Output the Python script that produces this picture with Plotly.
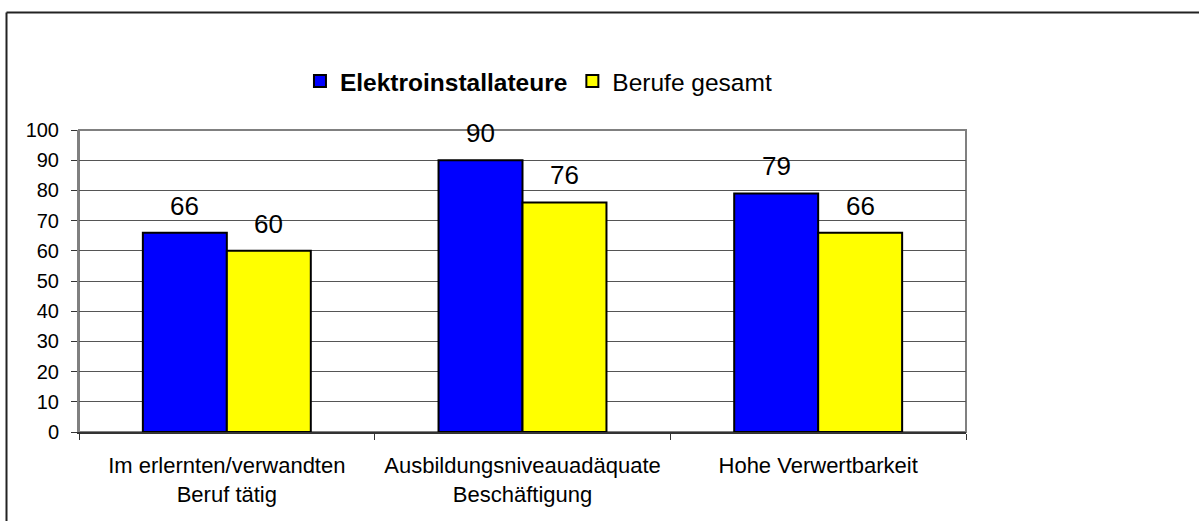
import plotly.graph_objects as go

categories = ["Im erlernten/verwandten<br>Beruf tätig",
              "Ausbildungsniveauadäquate<br>Beschäftigung",
              "Hohe Verwertbarkeit"]
series_names = ["Elektroinstallateure", "Berufe gesamt"]
elektro = [66, 90, 79]
gesamt = [60, 76, 66]
y_ticks = list(range(0, 101, 10))

W, H = 1199, 521
ML, MR, MT, MB = 79, 233, 130, 89
PW = W - ML - MR
PH = H - MT - MB
BARGAP = 0.432
FONT = "Liberation Sans, Arial, sans-serif"

fig = go.Figure()
colors = ["#0000FF", "#FFFF00"]
series = [elektro, gesamt]
for i, (name, vals) in enumerate(zip(series_names, series)):
    fig.add_trace(go.Bar(
        x=categories, y=vals,
        name=("<b>%s</b>" % name) if i == 0 else name,
        marker=dict(color=colors[i], line=dict(color="#000000", width=2)),
    ))

# data labels above each bar
bar_w = PW / len(categories) * (1 - BARGAP) / 2
annotations = []
for i, vals in enumerate(series):
    shift = (i - 0.5) * bar_w
    for c, v in zip(categories, vals):
        annotations.append(dict(
            x=c, y=v, xref="x", yref="y", text=str(v), showarrow=False,
            xshift=shift, yshift=10, yanchor="bottom",
            font=dict(family=FONT, size=26, color="#000000")))

# pixel -> paper helpers for the outer chart frame
def px(x):
    return (x - ML) / PW

def py(y):
    return (MT + PH - y) / PH

shapes = [
    # plot area border (top/right gray)
    dict(type="rect", xref="paper", yref="paper", x0=0, x1=1, y0=0, y1=1,
         line=dict(color="#808080", width=2), layer="below"),
    # outer chart frame: top and left edges (others fall outside the view)
    dict(type="line", xref="paper", yref="paper", x0=px(6.5), x1=px(W), y0=py(12.5), y1=py(12.5),
         line=dict(color="#222222", width=2)),
    dict(type="line", xref="paper", yref="paper", x0=px(6.5), x1=px(6.5), y0=py(12.5), y1=py(H),
         line=dict(color="#222222", width=2)),
]

fig.update_layout(
    width=W, height=H,
    margin=dict(l=ML, r=MR, t=MT, b=MB, pad=0),
    paper_bgcolor="white", plot_bgcolor="white",
    barmode="group", bargap=BARGAP, bargroupgap=0,
    font=dict(family=FONT, color="#000000"),
    showlegend=True,
    legend=dict(orientation="h", x=0.518, xanchor="center", y=1.162, yanchor="middle",
                font=dict(family=FONT, size=24.5, color="#000000"),
                bgcolor="rgba(0,0,0,0)", itemwidth=30, traceorder="normal"),
    annotations=annotations,
    shapes=shapes,
)
fig.update_xaxes(
    type="category", showline=True, linecolor="#333333", linewidth=2,
    ticks="outside", tickson="boundaries", ticklen=6, tickcolor="#333333", tickwidth=1,
    tickfont=dict(family=FONT, size=22, color="#000000"),
    ticklabelstandoff=13, showgrid=False, zeroline=False,
)
fig.update_yaxes(
    range=[0, 100], tickvals=y_ticks, showline=True, linecolor="#808080", linewidth=2,
    ticks="outside", ticklen=6, tickcolor="#333333", tickwidth=1,
    tickfont=dict(family=FONT, size=20, color="#000000"),
    ticklabelstandoff=8,
    showgrid=True, gridcolor="#555555", gridwidth=1, zeroline=False,
)

fig.write_html("out.html", config={"displayModeBar": False},
               post_script="document.body.style.margin='0';document.body.style.overflow='hidden';")
